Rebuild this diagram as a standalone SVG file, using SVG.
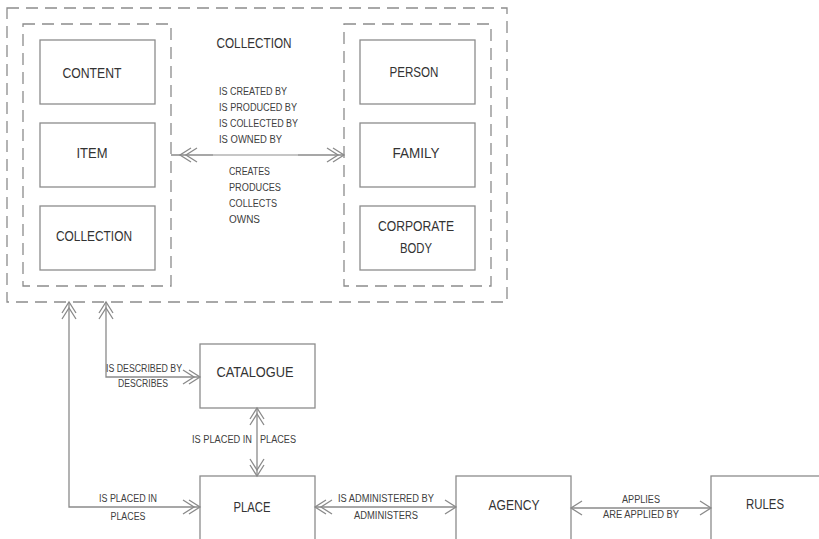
<svg xmlns="http://www.w3.org/2000/svg" width="819" height="539" viewBox="0 0 819 539">
  <style>
    .box { fill: #ffffff; stroke: #8c8c8c; stroke-width: 1.3; }
    .dash { fill: none; stroke: #8c8c8c; stroke-width: 1.3; stroke-dasharray: 12 7; }
    .ln { fill: none; stroke: #8a8a8a; stroke-width: 1.3; }
    .nt { font-family: "Liberation Sans", Arial, sans-serif; font-size: 14px; fill: #333333; text-anchor: middle; }
    .lb { font-family: "Liberation Sans", Arial, sans-serif; font-size: 10px; fill: #404040; }
    .mid { text-anchor: middle; }
  </style>
  <defs>
    <marker id="dbl" viewBox="-20 -10 22 20" refX="0" refY="0" markerWidth="22" markerHeight="20" markerUnits="userSpaceOnUse" orient="auto-start-reverse">
      <path d="M-11,-7 L0,0 L-11,7 M-17,-7 L-6,0 L-17,7" fill="none" stroke="#8a8a8a" stroke-width="1.3"/>
    </marker>
    <marker id="sgl" viewBox="-14 -10 16 20" refX="0" refY="0" markerWidth="16" markerHeight="20" markerUnits="userSpaceOnUse" orient="auto-start-reverse">
      <path d="M-11,-7 L0,0 L-11,7" fill="none" stroke="#8a8a8a" stroke-width="1.3"/>
    </marker>
  </defs>

  <rect width="819" height="539" fill="#ffffff"/>

  <!-- outer collection container -->
  <g id="collection-group">
    <rect class="dash" x="7" y="8" width="500" height="294"/>
    <text class="nt" x="254" y="48" textLength="75" lengthAdjust="spacingAndGlyphs">COLLECTION</text>
  </g>

  <!-- resource entities -->
  <g id="resources">
    <rect class="dash" x="23" y="24" width="148" height="262"/>
    <g id="content">
      <rect class="box" x="40" y="40" width="115" height="64"/>
      <text class="nt" x="92" y="78" textLength="59" lengthAdjust="spacingAndGlyphs">CONTENT</text>
    </g>
    <g id="item">
      <rect class="box" x="40" y="123" width="115" height="64"/>
      <text class="nt" x="92" y="158" textLength="31" lengthAdjust="spacingAndGlyphs">ITEM</text>
    </g>
    <g id="collection">
      <rect class="box" x="40" y="206" width="115" height="64"/>
      <text class="nt" x="94" y="241" textLength="76" lengthAdjust="spacingAndGlyphs">COLLECTION</text>
    </g>
  </g>

  <!-- agent entities -->
  <g id="agents">
    <rect class="dash" x="344" y="24" width="147" height="262"/>
    <g id="person">
      <rect class="box" x="360" y="40" width="115" height="64"/>
      <text class="nt" x="414" y="77" textLength="49" lengthAdjust="spacingAndGlyphs">PERSON</text>
    </g>
    <g id="family">
      <rect class="box" x="360" y="123" width="115" height="64"/>
      <text class="nt" x="416" y="158" textLength="47" lengthAdjust="spacingAndGlyphs">FAMILY</text>
    </g>
    <g id="corporate-body">
      <rect class="box" x="360" y="206" width="115" height="64"/>
      <text class="nt" x="416" y="231" textLength="76" lengthAdjust="spacingAndGlyphs">CORPORATE</text>
      <text class="nt" x="416" y="253" textLength="32" lengthAdjust="spacingAndGlyphs">BODY</text>
    </g>
  </g>

  <g id="catalogue">
    <rect class="box" x="200" y="344" width="115" height="64"/>
    <text class="nt" x="255" y="377" textLength="77" lengthAdjust="spacingAndGlyphs">CATALOGUE</text>
  </g>
  <g id="place">
    <rect class="box" x="200" y="476" width="115" height="66"/>
    <text class="nt" x="252" y="512" textLength="37" lengthAdjust="spacingAndGlyphs">PLACE</text>
  </g>
  <g id="agency">
    <rect class="box" x="456" y="476" width="115" height="66"/>
    <text class="nt" x="514" y="510" textLength="51" lengthAdjust="spacingAndGlyphs">AGENCY</text>
  </g>
  <g id="rules">
    <rect class="box" x="711" y="476" width="110" height="66"/>
    <text class="nt" x="765" y="509" textLength="38" lengthAdjust="spacingAndGlyphs">RULES</text>
  </g>

  <!-- relationships -->
  <g id="connectors">
    <!-- resources to agents -->
    <path class="ln" d="M171,155 H344" marker-end="url(#dbl)"/>
    <path d="M213,155 H298" stroke="#d0d0d0" stroke-width="1.4" fill="none"/>
    <path class="ln" d="M191,148 L180,155 L191,162 M197,148 L186,155 L197,162"/>
    <!-- collection to place -->
    <path class="ln" d="M69,302 V507 H200" marker-start="url(#dbl)" marker-end="url(#dbl)"/>
    <!-- collection to catalogue -->
    <path class="ln" d="M106,302 V377 H200" marker-start="url(#dbl)" marker-end="url(#dbl)"/>
    <!-- catalogue to place -->
    <path class="ln" d="M257,408 V476" marker-start="url(#dbl)" marker-end="url(#dbl)"/>
    <!-- place to agency -->
    <path class="ln" d="M315,507 H456" marker-start="url(#dbl)" marker-end="url(#sgl)"/>
    <!-- agency to rules -->
    <path class="ln" d="M571,508 H711" marker-start="url(#sgl)" marker-end="url(#sgl)"/>
  </g>

  <g id="connector-labels">
    <text class="lb" x="219" y="95" textLength="68" lengthAdjust="spacingAndGlyphs">IS CREATED BY</text>
    <text class="lb" x="219" y="111" textLength="78" lengthAdjust="spacingAndGlyphs">IS PRODUCED BY</text>
    <text class="lb" x="219" y="127" textLength="79" lengthAdjust="spacingAndGlyphs">IS COLLECTED BY</text>
    <text class="lb" x="219" y="143" textLength="63" lengthAdjust="spacingAndGlyphs">IS OWNED BY</text>
    <text class="lb" x="229" y="175" textLength="41" lengthAdjust="spacingAndGlyphs">CREATES</text>
    <text class="lb" x="229" y="191" textLength="52" lengthAdjust="spacingAndGlyphs">PRODUCES</text>
    <text class="lb" x="229" y="207" textLength="48" lengthAdjust="spacingAndGlyphs">COLLECTS</text>
    <text class="lb" x="229" y="223" textLength="31" lengthAdjust="spacingAndGlyphs">OWNS</text>

    <text class="lb" x="106" y="372" textLength="76" lengthAdjust="spacingAndGlyphs">IS DESCRIBED BY</text>
    <text class="lb mid" x="143" y="387" textLength="50" lengthAdjust="spacingAndGlyphs">DESCRIBES</text>

    <text class="lb" x="192" y="443" textLength="60" lengthAdjust="spacingAndGlyphs">IS PLACED IN</text>
    <text class="lb" x="260" y="443" textLength="36" lengthAdjust="spacingAndGlyphs">PLACES</text>

    <text class="lb mid" x="128" y="502" textLength="58" lengthAdjust="spacingAndGlyphs">IS PLACED IN</text>
    <text class="lb mid" x="128" y="520" textLength="35" lengthAdjust="spacingAndGlyphs">PLACES</text>

    <text class="lb mid" x="386" y="502" textLength="96" lengthAdjust="spacingAndGlyphs">IS ADMINISTERED BY</text>
    <text class="lb mid" x="386" y="519" textLength="64" lengthAdjust="spacingAndGlyphs">ADMINISTERS</text>

    <text class="lb mid" x="641" y="503" textLength="38" lengthAdjust="spacingAndGlyphs">APPLIES</text>
    <text class="lb mid" x="641" y="518" textLength="76" lengthAdjust="spacingAndGlyphs">ARE APPLIED BY</text>
  </g>
</svg>
